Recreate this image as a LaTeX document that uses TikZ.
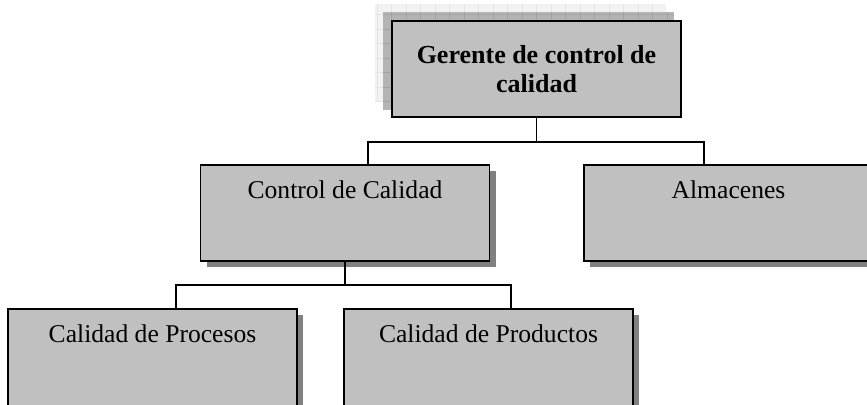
\documentclass[tikz,border=0pt]{standalone}
\usepackage{fontspec}
\setmainfont{Liberation Serif}
\usetikzlibrary{positioning,calc,shadows,backgrounds}

\definecolor{cajagris}{HTML}{C0C0C0}
\definecolor{sombragris}{HTML}{808080}
\definecolor{capaoscura}{HTML}{B4B4B4}
\definecolor{rejillaoscura}{HTML}{A4A4A4}
\definecolor{capaclara}{HTML}{F2F2F2}
\definecolor{rejillaclara}{HTML}{E4E4E4}

\tikzset{
  caja/.style={draw=black, line width=0.75pt, fill=cajagris, minimum width=144.5pt, minimum height=48pt, inner sep=0pt, align=center, font=\fontsize{12.8}{14.5}\selectfont},
  puesto/.style={caja, text height=9pt, text depth=23pt, drop shadow={shadow xshift=3pt, shadow yshift=-3pt, fill=sombragris, opacity=1}},
  puestobajo/.style={puesto, minimum height=52pt, text depth=27pt},
  linea/.style={draw=black, line width=0.8pt},
}

\begin{document}
\begin{tikzpicture}[x=0.5pt,y=-0.5pt]
        \useasboundingbox (0,0) rectangle (867,405);
        \clip (0,0) rectangle (867,405);

        % Top box
        \node[caja, font=\fontsize{13}{14.5}\selectfont\bfseries] (gerente) at (536.5,69) {Gerente de control de\\calidad};

        % Grid layers behind the top box
        \begin{scope}[on background layer]
        \fill[capaclara] ($(gerente.north west)+(-16,-16)$) rectangle ($(gerente.south east)+(-16,-16)$);
        \draw[rejillaclara, step=7.25pt] ($(gerente.north west)+(-16,-16)$) grid ($(gerente.south east)+(-16,-16)$);
        \fill[capaoscura] ($(gerente.north west)+(-8,-8)$) rectangle ($(gerente.south east)+(-8,-8)$);
        \draw[rejillaoscura, step=7.25pt] ($(gerente.north west)+(-8,-8)$) grid ($(gerente.south east)+(-8,-8)$);
        \end{scope}

        % Second level
        \node[puesto] (control) at (345,213) {Control de Calidad};
        \node[puesto] (almacen) at (728.5,213) {Almacenes};

        % Third level
        \node[puestobajo] (procesos) at (152.5,361) {Calidad de Procesos};
        \node[puestobajo] (productos) at (488.5,361) {Calidad de Productos};

        % Connectors
        \coordinate (barraA) at ($(gerente.south)+(0,24)$);
        \coordinate (barraB) at ($(control.south)+(0,23)$);
        \draw[linea] (gerente.south) -- (barraA);
        \draw[linea] ([xshift=84pt]control.north west) |- (barraA) -| ([xshift=60.5pt]almacen.north west);
        \draw[linea] (control.south) -- (barraB);
        \draw[linea] ([xshift=84.5pt]procesos.north west) |- (barraB) -| ([xshift=84pt]productos.north west);

    \end{tikzpicture}
\end{document}
